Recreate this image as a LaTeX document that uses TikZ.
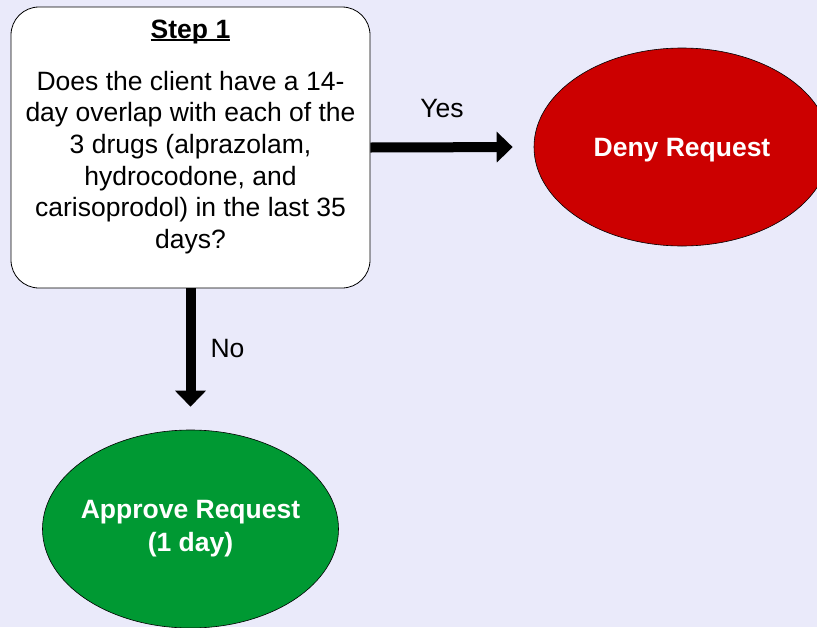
\documentclass[tikz,border=0pt]{standalone}
\usepackage{fontspec}
\setmainfont{Liberation Sans}
\usetikzlibrary{arrows.meta,shapes.geometric}
\definecolor{bgcol}{RGB}{234,234,250}
\definecolor{denyred}{RGB}{204,0,0}
\definecolor{approvegreen}{RGB}{0,153,51}
\newcommand\myul[1]{\setbox0\hbox{#1}\rlap{\rule[-3pt]{\wd0}{1.6pt}}\box0}
\begin{document}
\begin{tikzpicture}[x=1pt,y=-1pt,
  stepbox/.style={draw=black, line width=0.8pt, fill=white, rounded corners=28pt, minimum width=359pt, minimum height=281pt, inner sep=0pt},
  qtext/.style={font=\fontsize{26.5}{31.6}\selectfont, align=center, inner sep=0pt},
  ttext/.style={font=\fontsize{26.5}{31.6}\selectfont\bfseries, inner sep=0pt},
  outcome/.style={ellipse, draw=black, line width=0.6pt, minimum width=296pt, minimum height=198pt, inner xsep=-12pt, inner ysep=0pt, text=white, align=center, font=\fontsize{26.5}{33}\selectfont\bfseries},
  flow/.style={line width=10pt, -{Triangle[width=30pt,length=16pt]}},
  lbl/.style={font=\fontsize{26.5}{31.6}\selectfont, inner sep=0pt}]
\useasboundingbox (0,0) rectangle (817,627);
\clip (0,0) rectangle (817,627);
\fill[bgcol] (0,0) rectangle (817,627);
\node[stepbox] (step) at (190.5,147.5) {};
\node[ttext, anchor=base] (title) at (190.5,38) {\myul{Step 1}};
\node[qtext, anchor=base] (question) at (190.5,248.3) {Does the client have a 14-\\day overlap with each of the\\3 drugs (alprazolam,\\hydrocodone, and\\carisoprodol) in the last 35\\days?};
\node[outcome, fill=denyred, text height=19pt, text depth=0pt] (deny) at (682,147) {Deny Request};
\node[outcome, fill=approvegreen] (approve) at (190.5,529) {Approve Request\\(1 day)};
\draw[flow, shorten >=21pt] (step.east) -- (deny.west);
\draw[flow, shorten >=23pt] (step.south) -- (approve.north);
\node[lbl, anchor=base] (yes) at (442,117) {Yes};
\node[lbl, anchor=base] (no) at (227.5,357) {No};
\end{tikzpicture}
\end{document}
